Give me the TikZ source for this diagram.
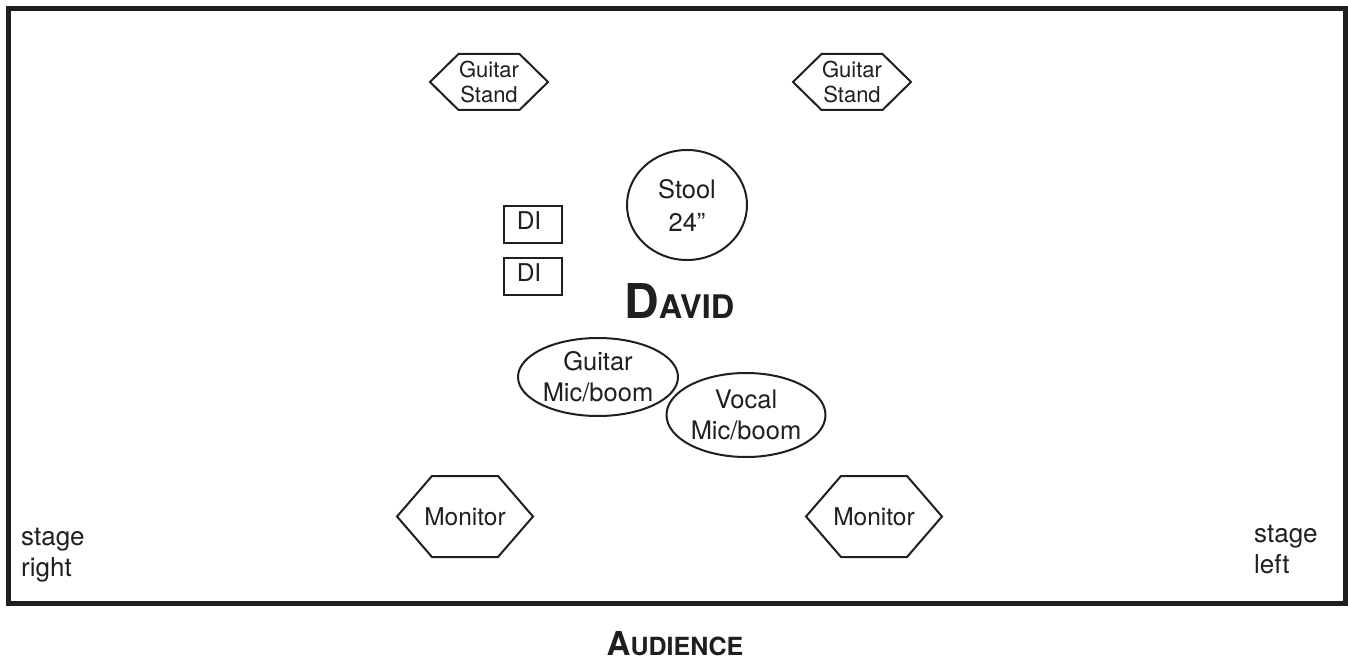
\documentclass[tikz,border=0pt]{standalone}
\usepackage{fontspec}
\setmainfont{TeX Gyre Heros}
\usetikzlibrary{shapes.geometric}
\tikzset{
  shapeline/.style={draw=black!88, line width=2pt, line join=miter},
  lbl/.style={font=\fontsize{24.5}{28}\selectfont, align=center, inner sep=0pt, text=black!88},
  standtxt/.style={font=\fontsize{22}{25}\selectfont, align=center, inner sep=0pt, text=black!88},
  ellipsebox/.style={shapeline, ellipse, inner sep=0pt, font=\fontsize{25.5}{31}\selectfont, align=center, text=black!88},
  dibox/.style={shapeline, rectangle, inner xsep=0pt, minimum width=58pt, text height=18pt, text depth=7pt, inner ysep=6pt, font=\fontsize{24.5}{27}\selectfont, text=black!88},
  sidetxt/.style={font=\fontsize{26}{31}\selectfont, align=left, inner sep=0pt, text=black!88},
  pics/hexa/.style n args={3}{code={\draw[shapeline] (-#1,0) -- (-#3,-#2) -- (#3,-#2) -- (#1,0) -- (#3,#2) -- (-#3,#2) -- cycle;}}
}
\begin{document}
\begin{tikzpicture}[x=1pt,y=-1pt]
\useasboundingbox (0,0) rectangle (1348,660);
\draw[draw=black!88, line width=5.5pt] (8.5,8.5) rectangle (1345.5,603.5);
% guitar stands
\node[standtxt] (gs1) at (489,82) {Guitar\\Stand};
\pic at (gs1) {hexa={59}{28}{30.5}};
\node[standtxt] (gs2) at (852,82) {Guitar\\Stand};
\pic at (gs2) {hexa={59}{28}{30.5}};
% stool
\node[ellipsebox, minimum width=120pt, minimum height=110pt, font=\fontsize{25.5}{33}\selectfont] (stool) at (687,205) {Stool\\24”};
% DI boxes
\node[dibox] (di1) at (533,224.5) {\hspace*{-8pt}DI};
\node[dibox] (di2) at (533,276) {\hspace*{-8pt}DI};
% David
\node[anchor=base west, inner sep=0pt, text=black!88] (david) at (624,318) {\bfseries\fontsize{48}{48}\selectfont D\fontsize{32.5}{32.5}\selectfont AVID};
% mics
\node[ellipsebox, minimum width=160pt, minimum height=78pt] (gmic) at (598,377) {Guitar\\Mic/boom};
\node[ellipsebox, minimum width=159pt, minimum height=84pt] (vmic) at (746,415) {Vocal\\Mic/boom};
% monitors
\node[lbl] (mon1) at (465,516.5) {Monitor};
\pic at (mon1) {hexa={68}{40.5}{33}};
\node[lbl] (mon2) at (874,516.5) {Monitor};
\pic at (mon2) {hexa={68}{40.5}{33}};
% stage labels
\node[sidetxt, anchor=base west] (sr) at (21,576) {stage\\right};
\node[sidetxt, anchor=base west] (sl) at (1254,573) {stage\\left};
% audience
\node[anchor=base, inner sep=0pt, text=black!88] (aud) at (675,655) {\bfseries\fontsize{33}{33}\selectfont A\fontsize{25}{25}\selectfont UDIENCE};
\end{tikzpicture}
\end{document}
